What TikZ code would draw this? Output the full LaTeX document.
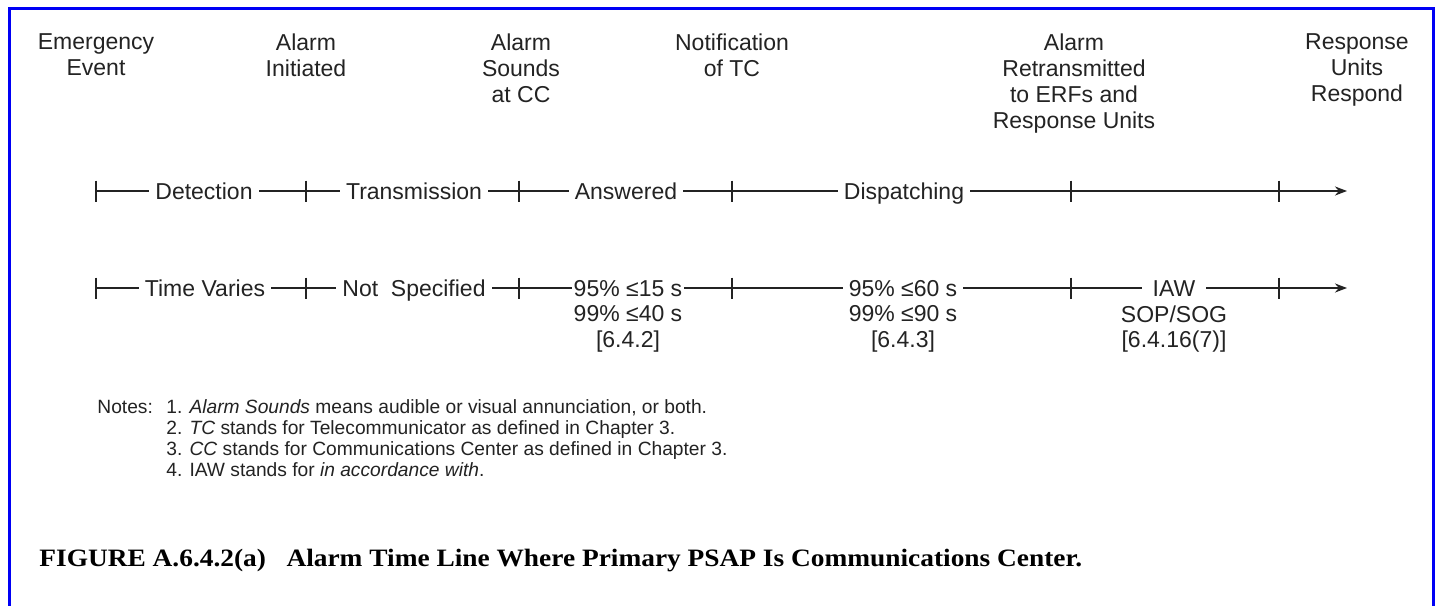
\documentclass[tikz,border=0pt]{standalone}
\usepackage{graphicx}
\usepackage{fontspec}
\setmainfont{Liberation Sans}
\newfontfamily\capfont{Liberation Serif}
\usetikzlibrary{arrows.meta}
\definecolor{frameblue}{RGB}{0,0,245}
\definecolor{ink}{RGB}{35,35,35}
\begin{document}
\begin{tikzpicture}[x=0.5pt,y=-0.5pt,
  toplab/.style={font=\fontsize{11.5}{13}\selectfont, align=center, inner sep=0pt, anchor=north, text=ink},
  onl/.style={font=\fontsize{11.5}{13}\selectfont, fill=white, inner xsep=3pt, inner ysep=1pt, anchor=base, text=ink},
  sublab/.style={font=\fontsize{11.5}{12.8}\selectfont, align=center, inner sep=0pt, anchor=north, text=ink},
  axisline/.style={draw=ink, line width=1pt, -{Stealth[length=6pt,width=4.5pt]}},
  tickmark/.style={draw=ink, line width=1pt},
  notes/.style={font=\fontsize{9.6}{10.5}\selectfont, inner sep=0pt, text=ink},
  caption/.style={font=\capfont\bfseries\fontsize{12.5}{14}\selectfont, inner sep=0pt, anchor=base west, text=black}
]
\useasboundingbox (0,0) rectangle (1440,605);
\fill[white] (0,0) rectangle (1440,605);
\draw[frameblue, line width=1.5pt] (9,610) -- (9,8) -- (1433,8) -- (1433,610);

% event labels
\node[toplab] (ev1) at (96,33) {Emergency\\Event};
\node[toplab] (ev2) at (306,33) {Alarm\\Initiated};
\node[toplab] (ev3) at (521,33) {Alarm\\Sounds\\at CC};
\node[toplab] (ev4) at (732,33) {Notification\\of TC};
\node[toplab] (ev5) at (1074,33) {Alarm\\Retransmitted\\to ERFs and\\Response Units};
\node[toplab] (ev6) at (1357,33) {Response\\Units\\Respond};

% row 1 coordinates
\coordinate (a1) at (96,191);
\coordinate (b1) at (306,191);
\coordinate (c1) at (519,191);
\coordinate (d1) at (732,191);
\coordinate (e1) at (1071,191);
\coordinate (f1) at (1279,191);
\coordinate (z1) at (1347,191);
% row 2 coordinates
\coordinate (a2) at (96,288);
\coordinate (b2) at (306,288);
\coordinate (c2) at (519,288);
\coordinate (d2) at (732,288);
\coordinate (e2) at (1071,288);
\coordinate (f2) at (1279,288);
\coordinate (z2) at (1347,288);

\draw[axisline] (a1) -- (z1);
\draw[axisline] (a2) -- (z2);
\foreach \t in {a1,b1,c1,d1,e1,f1,a2,b2,c2,d2,e2,f2}
  \draw[tickmark] (\t) ++(0,-10.5) -- ++(0,21);

% row 1 phase labels
\node[onl] (p1) at (204,199) {Detection};
\node[onl] (p2) at (414,199) {Transmission};
\node[onl] (p3) at (626,199) {Answered};
\node[onl] (p4) at (904,199) {Dispatching};

% row 2 requirement labels
\node[onl] (q1) at (205,296) {Time Varies};
\node[onl] (q2) at (414,296) {Not\ \ Specified};
\node[onl, inner xsep=1pt] (q3) at (628,296) {95\% ≤15 s};
\node[onl] (q4) at (903,296) {95\% ≤60 s};
\node[onl, inner xsep=5.5pt] (q5) at (1174,296) {IAW};
\node[sublab] (s3) at (628,305) {99\% ≤40 s\\{[6.4.2]}};
\node[sublab] (s4) at (903,305) {99\% ≤90 s\\{[6.4.3]}};
\node[sublab] (s5) at (1174,305) {SOP/SOG\\{[6.4.16(7)]}};

% notes
\node[notes, anchor=base west] (nh) at (97,413) {Notes:};
\node[notes, anchor=north west, align=left] (nl) at (166,399) {1. \textit{Alarm Sounds} means audible or visual annunciation, or both.\\
2. \textit{TC} stands for Telecommunicator as defined in Chapter 3.\\
3. \textit{CC} stands for Communications Center as defined in Chapter 3.\\
4. IAW stands for \textit{in accordance with}.};

% caption
\node[caption] (cap) at (39,566) {\scalebox{1.095}[1]{FIGURE A.6.4.2(a)\hspace{0.75em}Alarm Time Line Where Primary PSAP Is Communications Center.}};
\end{tikzpicture}
\end{document}
